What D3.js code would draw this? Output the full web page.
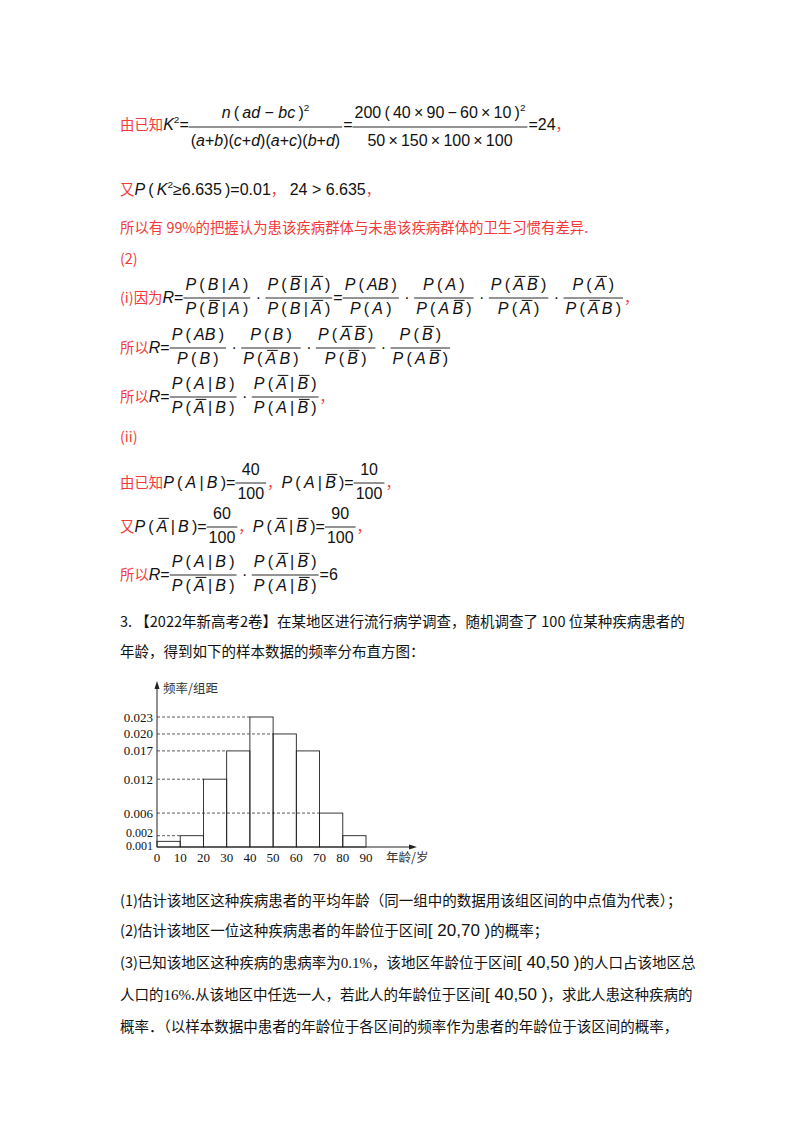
<!DOCTYPE html>
<html><head><meta charset="utf-8">
<script src="https://cdn.jsdelivr.net/npm/d3@7"></script>
<style>body{margin:0;background:#fff}svg{display:block}</style>
</head><body>
<script>
// histogram data
const binStarts = [0,10,20,30,40,50,60,70,80];
const binWidth = 10;
const densities = [0.001,0.002,0.012,0.017,0.023,0.020,0.017,0.006,0.002];
const yTickValues = [0.001,0.002,0.006,0.012,0.017,0.020,0.023];
const yTickLabels = ["0.001","0.002","0.006","0.012","0.017","0.020","0.023"];
const xTickValues = [0,10,20,30,40,50,60,70,80,90];

const RED="#f23a3a", BLK="#111";
const svg=d3.select("body").append("svg").attr("width",800).attr("height",1132);
const CJK="'Noto Sans CJK SC'", MF="'Liberation Sans',Arial,sans-serif", SER="'Liberation Serif',serif";
const FS=16;
const TH="\u2009";

function drawItems(g, items, fs){
  let x=0;
  items.forEach(([t,ty])=>{
    const isC = ty==='c'||ty==='k';
    const el=g.append("text").attr("x",x).attr("y",ty==='s'?-fs*0.45:0).text(t.replace(/ /g,"\u00a0"))
      .attr("font-size", ty==='s'? fs*0.62 : (isC? fs*0.9: fs))
      .attr("font-family", isC?CJK:MF)
      .attr("font-style",(ty==='i'||ty==='b')?"italic":"normal")
      .attr("fill", ty==='c'?RED:BLK);
    const w=el.node().getComputedTextLength();
    if(ty==='b') g.append("line").attr("x1",x+1.5).attr("x2",x+w+1.5).attr("y1",-fs*0.85).attr("y2",-fs*0.85).attr("stroke",BLK).attr("stroke-width",1);
    x+=w;
  });
  return x;
}
function line(y, x0, parts, o={}){
  const fs=o.fs||FS, nOff=o.n||13, dOff=o.d||11, bOff=o.b||5;
  let x=x0;
  const g=svg.append("g");
  parts.forEach(p=>{
    if(p.f){
      const fg=g.append("g");
      const ng=fg.append("g"), dg=fg.append("g");
      const wn=drawItems(ng,p.f[0],fs), wd=drawItems(dg,p.f[1],fs);
      const W=Math.max(wn,wd)+4;
      ng.attr("transform",`translate(${x+(W-wn)/2},${y-nOff})`);
      dg.attr("transform",`translate(${x+(W-wd)/2},${y+dOff})`);
      fg.append("line").attr("x1",x).attr("x2",x+W).attr("y1",y-bOff).attr("y2",y-bOff).attr("stroke",BLK).attr("stroke-width",0.9);
      x+=W+1;
    } else {
      const tg=g.append("g").attr("transform",`translate(${x},${y})`);
      x+=drawItems(tg,p.t,fs);
    }
  });
}
const T=(...a)=>({t:a}), F=(n,d)=>({f:[n,d]});
const P=(...inner)=>[["P","i"],[TH+"("+TH,"n"],...inner,[TH+")","n"]];
const bar=TH+"|"+TH;
line(130,120,[T(["由已知","c"],["K","i"],["2","s"],["=","n"]),
  F([["n","i"],[TH+"("+TH,"n"],["ad","i"],[" − ","n"],["bc","i"],[TH+")","n"],["2","s"]],
    [["(","n"],["a","i"],["+","n"],["b","i"],[")(","n"],["c","i"],["+","n"],["d","i"],[")(","n"],["a","i"],["+","n"],["c","i"],[")(","n"],["b","i"],["+","n"],["d","i"],[")","n"]]),
  T(["=","n"]),
  F([["200"+TH+"("+TH+"40"+TH+"×"+TH+"90"+TH+"−"+TH+"60"+TH+"×"+TH+"10"+TH+")","n"],["2","s"]],[["50"+TH+"×"+TH+"150"+TH+"×"+TH+"100"+TH+"×"+TH+"100","n"]]),
  T(["=24","n"],["，","c"])],{n:12,d:16,b:3});
line(195,120,[T(["又","c"],["P","i"],[TH+"("+TH,"n"],["K","i"],["2","s"],["≥6.635"+TH+")=0.01","n"],["，","c"],[" 24 > 6.635","n"],["，","c"])]);
line(233,120,[T(["所以有 99%的把握认为患该疾病群体与未患该疾病群体的卫生习惯有差异.","c"])]);
line(264,120,[T(["(2)","c"])]);
const Bb=["B","b"],Ab=["A","b"],A=["A","i"],B=["B","i"],AB=["AB","i"],sp=[TH,"n"],br=[bar,"n"];
const dot=T([" · ","n"]);
line(303,120,[T(["(i)因为","c"],["R","i"],["=","n"]),
  F(P(B,br,A),P(Bb,br,A)),dot,F(P(Bb,br,Ab),P(B,br,Ab)),T(["=","n"]),
  F(P(AB),P(A)),dot,F(P(A),P(A,sp,Bb)),dot,F(P(Ab,sp,Bb),P(Ab)),dot,F(P(Ab),P(Ab,sp,B)),T(["，","c"])]);
line(353,120,[T(["所以","c"],["R","i"],["=","n"]),
  F(P(AB),P(B)),dot,F(P(B),P(Ab,sp,B)),dot,F(P(Ab,sp,Bb),P(Bb)),dot,F(P(Bb),P(A,sp,Bb))]);
line(402,120,[T(["所以","c"],["R","i"],["=","n"]),
  F(P(A,br,B),P(Ab,br,B)),dot,F(P(Ab,br,Bb),P(A,br,Bb)),T(["，","c"])]);
line(442,120,[T(["(ii)","c"])]);
line(488,120,[T(["由已知","c"],["P","i"],[TH+"("+TH,"n"],A,br,B,[TH+")=","n"]),F([["40","n"]],[["100","n"]]),
  T(["，","c"],["P","i"],[TH+"("+TH,"n"],A,br,Bb,[TH+")=","n"]),F([["10","n"]],[["100","n"]]),T(["，","c"])]);
line(532,120,[T(["又","c"],["P","i"],[TH+"("+TH,"n"],Ab,br,B,[TH+")=","n"]),F([["60","n"]],[["100","n"]]),
  T(["，","c"],["P","i"],[TH+"("+TH,"n"],Ab,br,Bb,[TH+")=","n"]),F([["90","n"]],[["100","n"]]),T(["，","c"])]);
line(580,120,[T(["所以","c"],["R","i"],["=","n"]),
  F(P(A,br,B),P(Ab,br,B)),dot,F(P(Ab,br,Bb),P(A,br,Bb)),T(["=6","n"])]);

function para(y,x,parts){
  const t=svg.append("text").attr("x",x).attr("y",y).attr("font-size",14.5).attr("font-family",CJK).attr("fill",BLK);
  parts.forEach(p=>{ if(typeof p==="string") t.append("tspan").text(p);
    else t.append("tspan").attr("font-family",p.ser?SER:MF).attr("font-size",p.fs||15).text(p.m.replace(/ /g,"\u00a0")); });
}
para(627,120,["3.  【2022年新高考2卷】在某地区进行流行病学调查，随机调查了 100 位某种疾病患者的"]);
para(657,120,["年龄，得到如下的样本数据的频率分布直方图："]);
para(906,120,["(1)估计该地区这种疾病患者的平均年龄（同一组中的数据用该组区间的中点值为代表）；"]);
para(936,120,["(2)估计该地区一位这种疾病患者的年龄位于区间",{m:"[ 20,70 )",fs:17},"的概率；"]);
para(968,120,["(3)已知该地区这种疾病的患病率为",{m:"0.1%",ser:1},"，该地区年龄位于区间",{m:"[ 40,50 )",fs:17},"的人口占该地区总"]);
para(1000,120,["人口的",{m:"16%",ser:1},".从该地区中任选一人，若此人的年龄位于区间",{m:"[ 40,50 )",fs:17},"，求此人患这种疾病的"]);
para(1032,120,["概率．（以样本数据中患者的年龄位于各区间的频率作为患者的年龄位于该区间的概率，"]);

// histogram
const x=d3.scaleLinear().domain([0,90]).range([157,366]);
const y=d3.scaleLinear().domain([0,0.023]).range([847,717]);
const h=svg.append("g").attr("font-family",SER).attr("font-size",13).attr("fill",BLK);
yTickValues.forEach((v,i)=>{
  const idx=densities.indexOf(v);
  const xe=x(binStarts[idx]);
  if(xe>x(0)+1) h.append("line").attr("x1",x(0)).attr("x2",xe).attr("y1",y(v)).attr("y2",y(v)).attr("stroke","#333").attr("stroke-dasharray","3,2").attr("stroke-width",0.8);
  const dy = v===0.001?9:(v===0.002?1.5:4.5);
  h.append("text").attr("x",153).attr("y",y(v)+dy).attr("text-anchor","end").attr("font-size",v<0.005?12:13).text(yTickLabels[i]);
});
h.selectAll("rect").data(densities).join("rect")
  .attr("x",(d,i)=>x(binStarts[i])).attr("width",(d,i)=>x(binStarts[i]+binWidth)-x(binStarts[i]))
  .attr("y",d=>y(d)).attr("height",d=>y(0)-y(d)).attr("fill","none").attr("stroke","#222").attr("stroke-width",0.9);
h.append("line").attr("x1",x(0)).attr("x2",412).attr("y1",y(0)).attr("y2",y(0)).attr("stroke","#222");
h.append("line").attr("x1",x(0)).attr("x2",x(0)).attr("y1",y(0)).attr("y2",686).attr("stroke","#222");
h.append("path").attr("d",`M417,${y(0)} l-8,-2.5 l0,5 z`).attr("fill","#222");
h.append("path").attr("d",`M${x(0)},681 l-2.5,8 l5,0 z`).attr("fill","#222");
xTickValues.forEach(v=>h.append("text").attr("x",x(v)).attr("y",862).attr("text-anchor","middle").text(v));
h.append("text").attr("x",163).attr("y",693).attr("font-family",CJK).attr("font-size",12.5).attr("fill","#333").text("频率/组距");
h.append("text").attr("x",386).attr("y",862).attr("font-family",CJK).attr("font-size",12.5).attr("fill","#333").text("年龄/岁");
</script>
</body></html>
